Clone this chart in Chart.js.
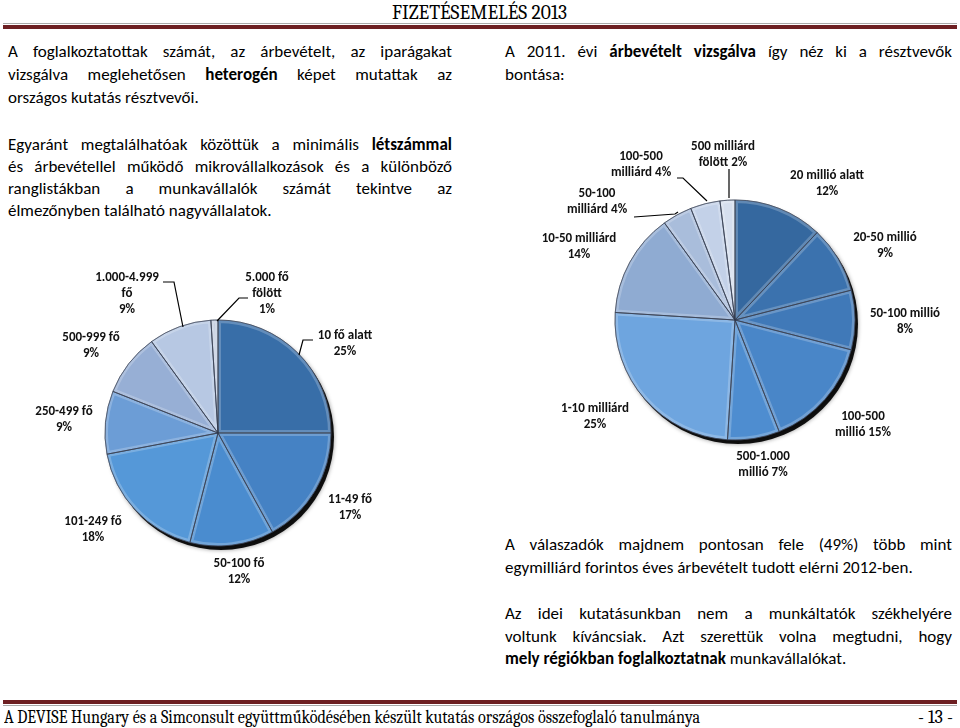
<!DOCTYPE html>
<html lang="hu">
<head>
<meta charset="utf-8">
<script src="https://cdn.jsdelivr.net/npm/chart.js@4"></script>
<style>
  html, body { margin: 0; padding: 0; background: #fff; }
  #page { position: relative; width: 960px; height: 728px; overflow: hidden; color: #000; }
  .serif { font-family: Caladea, "Liberation Serif", "DejaVu Serif", serif; white-space: nowrap; }
  .fit { display: inline-block; transform-origin: 0 50%; }
  .rule-gray { position: absolute; left: 3px; width: 954px; height: 1px; background: #a9a9a9; }
  .rule-red { position: absolute; left: 3px; width: 954px; height: 4px; background: #6d1f22; }
  .ln { position: absolute; height: 23px; line-height: 23px; font-family: Carlito, Lato, "Open Sans", sans-serif;
        font-size: 17px; white-space: nowrap; }
  .ln.j { text-align: justify; text-align-last: justify; }
  .colL { left: 8px; width: 444px; }
  .colR { left: 505px; width: 447px; }
  .box { position: absolute; }
</style>
</head>
<body>
<div id="page">
  <div class="serif" style="position:absolute;top:1px;left:392px;font-size:21px;line-height:22px;">
    <span class="fit" data-w="175">FIZETÉSEMELÉS 2013</span>
  </div>
  <div class="rule-gray" style="top:23px"></div>
  <div class="rule-red" style="top:25px"></div>

  <!-- left column -->
  <div class="ln j colL" style="top:40px">A foglalkoztatottak számát, az árbevételt, az iparágakat</div>
  <div class="ln j colL" style="top:63px">vizsgálva meglehetősen <b>heterogén</b> képet mutattak az</div>
  <div class="ln colL" style="top:86px">országos kutatás résztvevői.</div>

  <div class="ln j colL" style="top:133px">Egyaránt megtalálhatóak közöttük a minimális <b>létszámmal</b></div>
  <div class="ln j colL" style="top:155px">és árbevétellel működő mikrovállalkozások és a különböző</div>
  <div class="ln j colL" style="top:177px">ranglistákban a munkavállalók számát tekintve az</div>
  <div class="ln colL" style="top:199px">élmezőnyben található nagyvállalatok.</div>

  <!-- right column -->
  <div class="ln j colR" style="top:40px">A 2011. évi <b>árbevételt vizsgálva</b> így néz ki a résztvevők</div>
  <div class="ln colR" style="top:63px">bontása:</div>

  <div class="ln j colR" style="top:533px">A válaszadók majdnem pontosan fele (49%) több mint</div>
  <div class="ln colR" style="top:556px">egymilliárd forintos éves árbevételt tudott elérni 2012-ben.</div>
  <div class="ln j colR" style="top:602px">Az idei kutatásunkban nem a munkáltatók székhelyére</div>
  <div class="ln j colR" style="top:625px">voltunk kíváncsiak. Azt szerettük volna megtudni, hogy</div>
  <div class="ln colR" style="top:647px"><b>mely régiókban foglalkoztatnak</b> munkavállalókat.</div>

  <div class="box" style="left:0;top:240px;width:460px;height:370px"><canvas id="sizeChart"></canvas></div>
  <div class="box" style="left:480px;top:120px;width:480px;height:380px"><canvas id="revenueChart"></canvas></div>

  <div class="rule-red" style="top:700px"></div>
  <div class="rule-gray" style="top:705px"></div>
  <div class="serif" style="position:absolute;top:708px;left:4px;font-size:18px;line-height:20px;">
    <span class="fit" data-w="696">A DEVISE Hungary és a Simconsult együttműködésében készült kutatás országos összefoglaló tanulmánya</span>
  </div>
  <div class="serif" style="position:absolute;top:708px;left:918px;font-size:18px;line-height:20px;">
    <span class="fit" data-w="35">- 13 -</span>
  </div>
</div>

<script>
// létszám szerinti megoszlás
const sizeLabels = ['10 fő alatt', '11-49 fő', '50-100 fő', '101-249 fő', '250-499 fő',
                    '500-999 fő', '1.000-4.999 fő', '5.000 fő fölött'];
const sizeShares = [25, 17, 12, 18, 9, 9, 9, 1];
const sizeColors = ['#386ea8', '#4582c4', '#4a8ccf', '#5598d8', '#6c9dd6',
                    '#97afd5', '#b7c8e3', '#c5cfe0'];

// árbevétel szerinti megoszlás
const revenueLabels = ['20 millió alatt', '20-50 millió', '50-100 millió', '100-500 millió',
                       '500-1.000 millió', '1-10 milliárd', '10-50 milliárd', '50-100 milliárd',
                       '100-500 milliárd', '500 milliárd fölött'];
const revenueShares = [12, 9, 8, 15, 7, 25, 14, 4, 4, 2];
const revenueColors = ['#35689f', '#3b72ae', '#4079b8', '#4986c8', '#4e8dd0',
                       '#6ea5df', '#8fabd2', '#a9bddb', '#c3d1e8', '#d6dfee'];

// how each label is broken into lines ({p} = percentage)
const sizeLabelLines = [['10 fő alatt', '{p}'], ['11-49 fő', '{p}'], ['50-100 fő', '{p}'],
  ['101-249 fő', '{p}'], ['250-499 fő', '{p}'], ['500-999 fő', '{p}'],
  ['1.000-4.999', 'fő', '{p}'], ['5.000 fő', 'fölött', '{p}']];
const revenueLabelLines = [['20 millió alatt', '{p}'], ['20-50 millió', '{p}'], ['50-100 millió', '{p}'],
  ['100-500', 'millió {p}'], ['500-1.000', 'millió {p}'], ['1-10 milliárd', '{p}'],
  ['10-50 milliárd', '{p}'], ['50-100', 'milliárd {p}'], ['100-500', 'milliárd {p}'],
  ['500 milliárd', 'fölött {p}']];

// label block centres, relative to the pie centre
const sizeLabelPos = [[127, -89], [132, 75], [21, 139], [-125, 97], [-154, -13],
                      [-127, -87], [-91, -139], [49, -139]];
const revenueLabelPos = [[92, -136], [150, -74], [170, 2], [128, 105], [28, 145],
                         [-140, 97], [-156, -73], [-138, -118], [-94, -155], [-12, -165]];

// leader lines (index of slice, then points relative to the pie centre)
const sizeLeaders = [
  [0, [[95, -93], [85, -93], [81, -78]]],
  [6, [[-55, -151], [-44, -151], [-35, -106]]],
  [7, [[30, -135], [21, -135], [-1, -112]]]
];
const revenueLeaders = [
  [7, [[-101, -103], [-60, -106], [-57, -108]]],
  [8, [[-58, -142], [-52, -142], [-28, -119]]],
  [9, [[-6, -151], [-6, -122]]]
];

function slicePath(ctx, a) {
  ctx.beginPath();
  ctx.moveTo(a.x, a.y);
  ctx.arc(a.x, a.y, a.outerRadius, a.startAngle, a.endAngle);
  ctx.closePath();
}

const pieDecor = {
  id: 'pieDecor',
  beforeDatasetsDraw(chart) {
    const arc = chart.getDatasetMeta(0).data[0];
    if (!arc) return;
    const ctx = chart.ctx;
    ctx.save();
    ctx.beginPath();
    ctx.arc(arc.x + 3, arc.y + 4, arc.outerRadius, 0, Math.PI * 2);
    ctx.fillStyle = 'rgba(0,0,0,0.92)';
    ctx.shadowColor = 'rgba(0,0,0,0.45)';
    ctx.shadowBlur = 4;
    ctx.fill();
    ctx.restore();
  },
  afterDatasetsDraw(chart, args, opts) {
    const meta = chart.getDatasetMeta(0);
    const arc = meta.data[0];
    if (!arc) return;
    const ctx = chart.ctx;
    const cx = arc.x, cy = arc.y;
    const values = chart.data.datasets[0].data;

    // bevel: light inner edge on every slice, then a dark seam
    meta.data.forEach(a => {
      ctx.save();
      slicePath(ctx, a);
      ctx.clip();
      slicePath(ctx, a);
      ctx.strokeStyle = 'rgba(255,255,255,0.22)';
      ctx.lineWidth = 6;
      ctx.lineJoin = 'round';
      ctx.stroke();
      ctx.restore();
    });
    meta.data.forEach(a => {
      ctx.save();
      slicePath(ctx, a);
      ctx.strokeStyle = 'rgba(45,55,75,0.55)';
      ctx.lineWidth = 1;
      ctx.stroke();
      ctx.restore();
    });

    // leader lines
    ctx.save();
    ctx.strokeStyle = '#000';
    ctx.lineWidth = 1.2;
    opts.leaders.forEach(([i, pts]) => {
      ctx.beginPath();
      pts.forEach(([dx, dy], k) => k ? ctx.lineTo(cx + dx, cy + dy) : ctx.moveTo(cx + dx, cy + dy));
      ctx.stroke();
    });
    ctx.restore();

    // labels
    ctx.save();
    ctx.font = 'bold 13px Carlito, Lato, "Open Sans", sans-serif';
    ctx.fillStyle = '#111';
    ctx.textAlign = 'center';
    ctx.textBaseline = 'middle';
    const lh = 16;
    opts.lines.forEach((lines, i) => {
      const [dx, dy] = opts.pos[i];
      const top = cy + dy - (lines.length - 1) * lh / 2;
      lines.forEach((t, k) => {
        ctx.fillText(t.replace('{p}', values[i] + '%'), cx + dx, top + k * lh);
      });
    });
    ctx.restore();
  }
};

function makePie(id, labels, values, colors, radius, padding, lines, pos, leaders) {
  return new Chart(document.getElementById(id), {
    type: 'pie',
    data: {
      labels: labels,
      datasets: [{
        data: values,
        backgroundColor: colors,
        borderColor: 'rgba(70,80,100,0.6)',
        borderWidth: 1,
        radius: radius
      }]
    },
    options: {
      responsive: true,
      maintainAspectRatio: false,
      animation: false,
      layout: { padding: padding },
      plugins: {
        legend: { display: false },
        tooltip: { enabled: false },
        pieDecor: { lines: lines, pos: pos, leaders: leaders }
      }
    },
    plugins: [pieDecor]
  });
}

makePie('sizeChart', sizeLabels, sizeShares, sizeColors, 113,
  { left: 105, right: 129, top: 80, bottom: 64 }, sizeLabelLines, sizeLabelPos, sizeLeaders);
makePie('revenueChart', revenueLabels, revenueShares, revenueColors, 120,
  { left: 135, right: 105, top: 80, bottom: 60 }, revenueLabelLines, revenueLabelPos, revenueLeaders);

// squeeze header / footer text to the width it takes in the printed page
document.querySelectorAll('.fit').forEach(el => {
  const w = el.getBoundingClientRect().width;
  el.style.transform = 'scaleX(' + (Number(el.dataset.w) / w) + ')';
});
</script>
</body>
</html>
